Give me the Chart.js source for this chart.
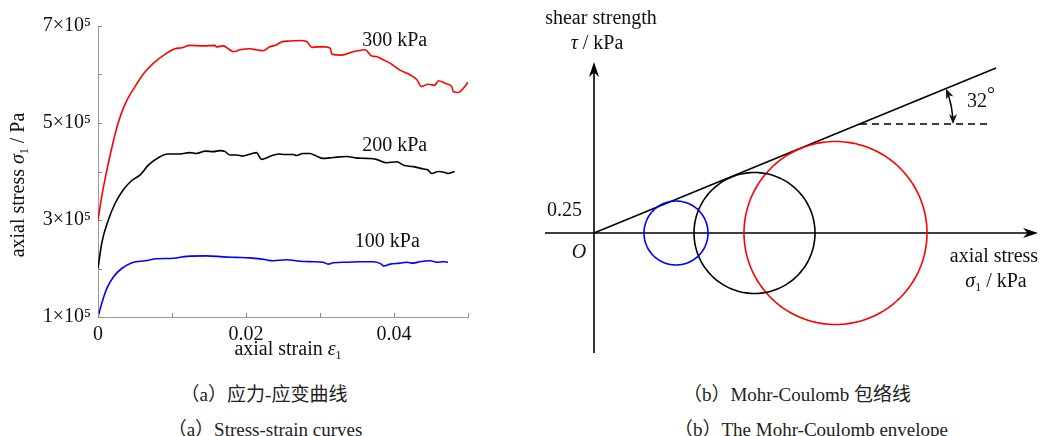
<!DOCTYPE html>
<html>
<head>
<meta charset="utf-8">
<script src="https://cdn.jsdelivr.net/npm/chart.js@4.4.0/dist/chart.umd.min.js"></script>
<style>
  body { margin: 0; background: #fff; width: 1049px; height: 436px; position: relative; overflow: hidden; }
  canvas { position: absolute; top: 0; }
  #stressStrain { left: 0; }
  #mohr { left: 520px; }
  .cap { position: absolute; transform: translate(-50%, -50%); white-space: nowrap;
         font-family: "Liberation Serif", "Noto Sans CJK SC", serif; font-size: 19px; color: #222; }
</style>
</head>
<body>
<canvas id="stressStrain" width="520" height="365"></canvas>
<canvas id="mohr" width="529" height="365"></canvas>
<div class="cap" style="left:264px; top:392px;">（a）应力-应变曲线</div>
<div class="cap" style="left:265px; top:427px;">（a）Stress-strain curves</div>
<div class="cap" style="left:797px; top:392px;">（b）Mohr-Coulomb 包络线</div>
<div class="cap" style="left:811px; top:427px;">（b）The Mohr-Coulomb envelope</div>
<script>
'use strict';

// stress-strain curves, axial stress in kPa
const strain300 = [0, 0.0005, 0.0012, 0.0019, 0.0027, 0.0036, 0.005, 0.0064, 0.0077, 0.0091, 0.0104, 0.0113, 0.0124, 0.0142, 0.0158, 0.016, 0.0169, 0.0178, 0.0183, 0.0192, 0.0205, 0.0214, 0.0223, 0.0232, 0.0241, 0.0248, 0.0259, 0.0273, 0.0282, 0.0289, 0.0296, 0.0307, 0.0314, 0.0316, 0.0329, 0.0345, 0.0361, 0.037, 0.0376, 0.0386, 0.0395, 0.0408, 0.0422, 0.0431, 0.0437, 0.0446, 0.0455, 0.046, 0.0469, 0.0476, 0.0478, 0.048, 0.0487, 0.0494, 0.05];
const stress300 = [300, 348, 403, 451, 499, 537, 575, 606, 626, 642, 653, 655, 660, 659, 660, 657, 659, 651, 647, 651, 653, 651, 649, 657, 661, 667, 669, 670, 668, 656, 657, 657, 654, 642, 640, 647, 651, 638, 637, 630, 623, 609, 599, 589, 575, 580, 578, 587, 582, 578, 575, 565, 563, 572, 584];

const strain200 = [0, 0.0005, 0.0014, 0.0023, 0.0034, 0.0046, 0.0057, 0.0068, 0.0082, 0.0095, 0.0111, 0.0124, 0.0133, 0.0145, 0.0156, 0.0165, 0.0172, 0.0178, 0.0187, 0.0196, 0.0208, 0.0214, 0.0221, 0.0232, 0.0244, 0.0253, 0.0264, 0.0268, 0.0277, 0.0286, 0.0295, 0.0304, 0.0318, 0.0336, 0.0349, 0.0363, 0.0376, 0.039, 0.0404, 0.0413, 0.0426, 0.044, 0.0446, 0.0451, 0.046, 0.0469, 0.0473, 0.0482];
const stress200 = [200, 252, 300, 334, 362, 382, 393, 413, 429, 436, 436, 439, 437, 442, 441, 443, 441, 434, 434, 432, 437, 439, 425, 431, 436, 435, 435, 433, 437, 437, 432, 427, 429, 431, 428, 427, 425, 418, 420, 413, 410, 405, 403, 396, 400, 398, 396, 400];

const strain100 = [0, 0.0005, 0.0012, 0.0021, 0.0032, 0.0046, 0.0064, 0.0079, 0.0102, 0.012, 0.0147, 0.0169, 0.0187, 0.0205, 0.0223, 0.0237, 0.0255, 0.0273, 0.0291, 0.0304, 0.0311, 0.0318, 0.0336, 0.0354, 0.0372, 0.0383, 0.0386, 0.0395, 0.0408, 0.0417, 0.0426, 0.0435, 0.0449, 0.0458, 0.0467, 0.0473];
const stress100 = [100, 128, 159, 183, 200, 212, 216, 220, 221, 225, 226, 224, 223, 222, 219, 216, 218, 215, 214, 213, 209, 212, 213, 214, 214, 209, 205, 209, 211, 213, 211, 214, 216, 213, 214, 213];

const curveNames = ['300 kPa', '200 kPa', '100 kPa'];
const curveColors = ['#ff0000', '#000000', '#0000ff'];
// where each curve's name sits: [strain, stress kPa]
const curveLabelAt = [[0.0357, 669], [0.0357, 453], [0.0347, 255]];

const strainTicks = [0, 0.02, 0.04];
const stressTicks = [1, 3, 5, 7]; // x 10^5 Pa

// Mohr circles: confining pressure and peak axial stress, kPa
const sigma3 = [100, 200, 300];
const sigma1 = [228, 442, 666];
const circleColors = ['#0000ff', '#000000', '#ff0000'];
// failure envelope and its horizontal reference
const envSigma = [0, 804];
const envTau = [0, 330];
const refSigma = [532, 792];
const refTau = [218, 218];

const SERIF = '"Liberation Serif", "DejaVu Serif", serif';

function pts(xs, ys, k) {
  return xs.map((x, i) => ({ x: x, y: ys[i] * k }));
}

// text with italic / subscript parts
function drawRich(ctx, parts, x, y, size, align) {
  let w = 0;
  const fs = parts.map(p => {
    const s = p.sub ? Math.round(size * 0.6) : size;
    const f = (p.it ? 'italic ' : '') + s + 'px ' + SERIF;
    ctx.font = f;
    const pw = ctx.measureText(p.t).width;
    w += pw;
    return { f: f, pw: pw, dy: p.sub ? size * 0.28 : (p.sup ? -size * 0.3 : 0) };
  });
  let cx = align === 'left' ? x : (align === 'right' ? x - w : x - w / 2);
  ctx.textAlign = 'left';
  ctx.textBaseline = 'middle';
  parts.forEach((p, i) => {
    ctx.font = fs[i].f;
    ctx.fillText(p.t, cx, y + fs[i].dy);
    cx += fs[i].pw;
  });
}

const strainDecor = {
  id: 'strainDecor',
  afterDraw(chart) {
    const { ctx, chartArea: a, scales: { x, y } } = chart;
    ctx.save();
    // inward tick marks
    ctx.strokeStyle = '#8a8a8a';
    ctx.lineWidth = 1;
    ctx.beginPath();
    for (let v = 1; v <= 7; v++) {
      const py = Math.round(y.getPixelForValue(v * 1e5)) + 0.5;
      ctx.moveTo(a.left, py); ctx.lineTo(a.left + 4, py);
    }
    for (let k = 0; k <= 5; k++) {
      const px = Math.round(x.getPixelForValue(k * 0.01)) + 0.5;
      ctx.moveTo(px, a.bottom); ctx.lineTo(px, a.bottom - 4);
    }
    ctx.stroke();

    ctx.fillStyle = '#111';
    curveNames.forEach((n, i) => {
      ctx.font = '20px ' + SERIF;
      ctx.textAlign = 'left';
      ctx.textBaseline = 'middle';
      ctx.fillText(n, x.getPixelForValue(curveLabelAt[i][0]), y.getPixelForValue(curveLabelAt[i][1] * 1000));
    });

    drawRich(ctx, [{ t: 'axial strain ' }, { t: 'ε', it: true }, { t: '1', sub: true }],
      (a.left + a.right) / 2 + 5, a.bottom + 33, 20);

    ctx.translate(19, 185);
    ctx.rotate(-Math.PI / 2);
    drawRich(ctx, [{ t: 'axial stress ' }, { t: 'σ', it: true }, { t: '1', sub: true }, { t: ' / Pa' }], 0, 0, 20);
    ctx.restore();
  }
};

new Chart(document.getElementById('stressStrain'), {
  type: 'line',
  data: {
    datasets: [
      { label: curveNames[0], data: pts(strain300, stress300, 1000), borderColor: curveColors[0] },
      { label: curveNames[1], data: pts(strain200, stress200, 1000), borderColor: curveColors[1] },
      { label: curveNames[2], data: pts(strain100, stress100, 1000), borderColor: curveColors[2] }
    ]
  },
  options: {
    responsive: false,
    animation: false,
    layout: { padding: { top: 26, right: 52, left: 0, bottom: 0 } },
    plugins: { legend: { display: false }, tooltip: { enabled: false } },
    elements: { point: { radius: 0 }, line: { borderWidth: 1.6, cubicInterpolationMode: 'monotone' } },
    scales: {
      x: {
        type: 'linear', min: 0, max: 0.05,
        grid: { display: false, drawTicks: false },
        border: { color: '#9a9a9a', width: 1 },
        ticks: {
          stepSize: 0.01, autoSkip: false, maxRotation: 0, padding: 6, color: '#111',
          font: { family: SERIF, size: 20 },
          callback: v => {
            const hit = strainTicks.find(t => Math.abs(t - v) < 1e-6);
            return hit === undefined ? '' : (hit === 0 ? '0' : hit.toFixed(2));
          }
        },
        afterFit: s => { s.height = 48; }
      },
      y: {
        type: 'linear', min: 1e5, max: 7e5,
        grid: { display: false, drawTicks: false },
        border: { color: '#9a9a9a', width: 1 },
        ticks: {
          stepSize: 1e5, autoSkip: false, padding: 7, color: '#111',
          font: { family: SERIF, size: 20 },
          callback: v => {
            const n = Math.round(v / 1e5);
            return stressTicks.includes(n) ? n + '×10⁵' : '';
          }
        },
        afterFit: s => { s.width = 98; }
      }
    }
  },
  plugins: [strainDecor]
});

// ---- Mohr-Coulomb envelope ----

function arrowHead(ctx, tx, ty, ang, len, half) {
  ctx.save();
  ctx.translate(tx, ty);
  ctx.rotate(ang);
  ctx.beginPath();
  ctx.moveTo(0, 0);
  ctx.lineTo(-len, -half);
  ctx.lineTo(-len * 0.7, 0);
  ctx.lineTo(-len, half);
  ctx.closePath();
  ctx.fill();
  ctx.restore();
}

function circlePoints(s3, s1) {
  const c = (s1 + s3) / 2, r = (s1 - s3) / 2, out = [];
  for (let k = 0; k <= 180; k++) {
    const t = k / 180 * 2 * Math.PI;
    out.push({ x: c + r * Math.cos(t), y: r * Math.sin(t) });
  }
  return out;
}

const mohrDecor = {
  id: 'mohrDecor',
  beforeDatasetsDraw(chart) {
    const { ctx, chartArea: a, scales: { x, y } } = chart;
    const ox = x.getPixelForValue(0), oy = y.getPixelForValue(0);
    ctx.save();
    ctx.strokeStyle = '#000';
    ctx.fillStyle = '#000';
    ctx.lineWidth = 1.6;
    ctx.beginPath();
    ctx.moveTo(a.left, oy); ctx.lineTo(a.right - 6, oy);
    ctx.moveTo(ox, a.bottom); ctx.lineTo(ox, a.top + 6);
    ctx.stroke();
    arrowHead(ctx, a.right, oy, 0, 15, 5);
    arrowHead(ctx, ox, a.top, -Math.PI / 2, 15, 5);
    ctx.restore();
  },
  afterDraw(chart) {
    const { ctx, scales: { x, y } } = chart;
    const ox = x.getPixelForValue(0), oy = y.getPixelForValue(0);
    ctx.save();
    ctx.fillStyle = '#111';
    ctx.strokeStyle = '#000';

    // angle marker between the envelope and the horizontal
    const cx = x.getPixelForValue(refSigma[0]), cy = y.getPixelForValue(refTau[0]);
    const phi = Math.atan2(envTau[1] - envTau[0], envSigma[1] - envSigma[0]);
    const R = 93;
    ctx.lineWidth = 1.5;
    ctx.beginPath();
    ctx.arc(cx, cy, R, -phi + 0.07, -0.07);
    ctx.stroke();
    arrowHead(ctx, cx + R * Math.cos(-phi), cy + R * Math.sin(-phi), -phi - Math.PI / 2, 10, 4);
    arrowHead(ctx, cx + R, cy, Math.PI / 2, 10, 4);

    drawRich(ctx, [{ t: '32' }, { t: '°', sup: true }], cx + R + 14, cy - 22, 20, 'left');

    drawRich(ctx, [{ t: 'shear strength' }], ox + 7, 19, 20);
    drawRich(ctx, [{ t: 'τ', it: true }, { t: ' / kPa' }], ox + 3, 44, 20);
    drawRich(ctx, [{ t: '0.25' }], ox - 12, oy - 22, 20, 'right');
    drawRich(ctx, [{ t: 'O', it: true }], ox - 15, oy + 20, 20);
    drawRich(ctx, [{ t: 'axial stress' }], 474, oy + 24, 20);
    drawRich(ctx, [{ t: 'σ', it: true }, { t: '1', sub: true }, { t: ' / kPa' }], 476, oy + 49, 20);
    ctx.restore();
  }
};

const mohrSets = sigma3.map((s3, i) => ({
  data: circlePoints(s3, sigma1[i]),
  borderColor: circleColors[i],
  borderWidth: 1.6,
  tension: 0.3
}));
mohrSets.push({ data: pts(envSigma, envTau, 1), borderColor: '#000', borderWidth: 1.6, tension: 0 });
mohrSets.push({ data: pts(refSigma, refTau, 1), borderColor: '#000', borderWidth: 1.5, borderDash: [7, 5], tension: 0 });

new Chart(document.getElementById('mohr'), {
  type: 'scatter',
  data: { datasets: mohrSets.map(d => Object.assign({ showLine: true, pointRadius: 0 }, d)) },
  options: {
    responsive: false,
    animation: false,
    layout: { padding: { left: 25, right: 11, top: 62, bottom: 12 } },
    plugins: { legend: { display: false }, tooltip: { enabled: false } },
    scales: {
      x: { type: 'linear', display: false, min: -98, max: 888 },
      y: { type: 'linear', display: false, min: -240, max: 342 }
    }
  },
  plugins: [mohrDecor]
});
</script>
</body>
</html>
